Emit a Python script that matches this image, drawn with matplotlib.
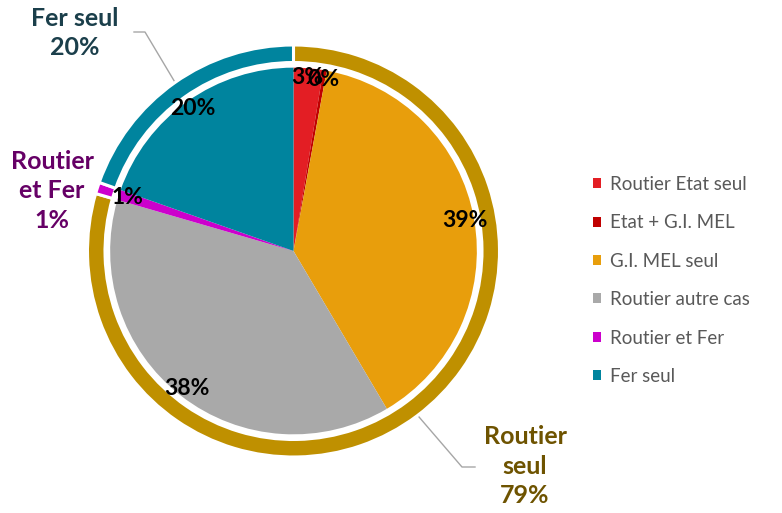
import numpy as np
import matplotlib
matplotlib.use("Agg")
import matplotlib.pyplot as plt

plt.rcParams['font.family'] = ['Lato', 'DejaVu Sans']

# inner pie: detail of each category (percent)
inner_labels = ["Routier Etat seul", "Etat + G.I. MEL", "G.I. MEL seul",
                "Routier autre cas", "Routier et Fer", "Fer seul"]
inner_values = [2.6, 0.3, 38.6, 38.0, 0.9, 19.6]
inner_pct = ["3%", "0%", "39%", "38%", "1%", "20%"]
inner_colors = ["#E31E24", "#C00000", "#E89E0C", "#A9A9A9", "#CC00CC", "#00849E"]

# outer ring: grouped totals
outer_labels = ["Routier\nseul", "Routier\net Fer", "Fer seul"]
outer_values = [79.5, 0.9, 19.6]
outer_pct = ["79%", "1%", "20%"]
outer_colors = ["#BF9000", "#CC00CC", "#00849E"]
outer_text_colors = ["#6E5300", "#660066", "#1B3F4B"]

W, H = 782, 513
fig = plt.figure(figsize=(W / 100, H / 100), dpi=100)
cx, cy, R = 293.5, 251, 206
ax = fig.add_axes([(cx - R) / W, (H - cy - R) / H, 2 * R / W, 2 * R / H])


def px(x, y):
    # pixel position (from top-left) -> pie data coords
    return (x - cx) / R, (cy - y) / R


ring_w = 0.085
outer_wedges, _ = ax.pie(outer_values, colors=outer_colors, radius=1.0,
                         startangle=90, counterclock=False,
                         wedgeprops=dict(width=ring_w, edgecolor="white", linewidth=2.2))

inner_r = 0.89
inner_wedges, _ = ax.pie(inner_values, colors=inner_colors, radius=inner_r,
                         startangle=90, counterclock=False,
                         wedgeprops=dict(linewidth=0))

# percentage labels inside the inner pie (3% and 0% overlap, as in the original)
for w, txt in zip(inner_wedges, inner_pct):
    ang = np.deg2rad((w.theta1 + w.theta2) / 2)
    r = 0.845
    ax.text(r * np.cos(ang), r * np.sin(ang), txt, ha="center", va="center",
            fontsize=16.5, fontweight="bold", color="black")

# outer labels with leader lines
label_pos = {"Routier\nseul": px(525, 466), "Routier\net Fer": px(52, 191), "Fer seul": px(75, 33)}
leader_pts = {"Routier\nseul": [px(462, 467), px(475, 467)],
              "Fer seul": [px(145, 32), px(134, 32)]}
for w, lab, pct, tc in zip(outer_wedges, outer_labels, outer_pct, outer_text_colors):
    ang = np.deg2rad((w.theta1 + w.theta2) / 2)
    r_mid = 1.0 - ring_w / 2
    if lab in leader_pts:
        pts = [(r_mid * np.cos(ang), r_mid * np.sin(ang))] + leader_pts[lab]
        xs, ys = zip(*pts)
        ax.plot(xs, ys, color="#A6A6A6", lw=1, clip_on=False, zorder=0)
    x, y = label_pos[lab]
    ax.text(x, y, f"{lab}\n{pct}", ha="center", va="center", fontsize=18,
            fontweight="bold", color=tc, linespacing=1.35, clip_on=False)

ax.set_xlim(-1, 1)
ax.set_ylim(-1, 1)
ax.set_aspect("equal")
ax.axis("off")

leg = fig.legend(inner_wedges, inner_labels, loc="upper left",
                 bbox_to_anchor=(593 / W, 1 - 176 / H), frameon=False,
                 fontsize=13.5, labelspacing=1.14, handlelength=0.45,
                 handleheight=0.45, handletextpad=0.45, borderaxespad=0,
                 borderpad=0)
for t in leg.get_texts():
    t.set_color("#595959")

fig.savefig("out.png", dpi=100)
